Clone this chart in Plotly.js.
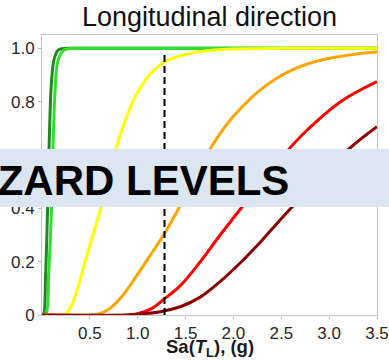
<!DOCTYPE html>
<html>
<head>
<meta charset="utf-8">
<script src="https://cdn.plot.ly/plotly-3.0.1.min.js"></script>
<style>
  html, body { margin: 0; padding: 0; background: #ffffff; }
  #chart { width: 389px; height: 361px; }
</style>
</head>
<body>
<div id="chart"></div>
<script>
// Fragility curves, longitudinal direction: probability vs Sa(T_L) in g
const curveNames = ['Curve 1', 'Curve 2', 'Curve 3', 'Curve 4', 'Curve 5', 'Curve 6'];

const darkGreenX = [0, 0.014, 0.038, 0.059, 0.076, 0.094, 0.118, 0.14, 0.17, 0.21, 0.3, 1.0, 2.0, 3.5];
const darkGreenY = [0, 0.0, 0.157, 0.406, 0.656, 0.844, 0.944, 0.975, 0.994, 0.999, 1.0, 1.0, 1.0, 1.0];

const greenX = [0, 0.04, 0.07, 0.1, 0.117, 0.137, 0.16, 0.19, 0.23, 0.29, 0.36, 1.0, 2.0, 3.5];
const greenY = [0, 0.005, 0.157, 0.406, 0.656, 0.844, 0.944, 0.975, 0.994, 0.999, 1.0, 1.0, 1.0, 1.0];

const yellowX = [0, 0.2, 0.25, 0.31, 0.38, 0.45, 0.54, 0.63, 0.766, 0.87, 0.975, 1.05, 1.12, 1.2, 1.28, 1.37, 1.47, 1.65, 1.93, 2.5, 3.5];
const yellowY = [0, 0, 0.005, 0.0375, 0.11, 0.2, 0.31, 0.42, 0.615, 0.73, 0.82, 0.865, 0.9, 0.928, 0.95, 0.963, 0.974, 0.988, 0.997, 1.0, 1.0];

const orangeX = [0, 0.5, 0.59, 0.70, 0.836, 0.975, 1.114, 1.27, 1.43, 1.6, 1.74, 1.86, 2.0, 2.25, 2.44, 2.65, 2.94, 3.27, 3.5];
const orangeY = [0, 0, 0.004, 0.022, 0.07, 0.14, 0.215, 0.3, 0.4, 0.52, 0.612, 0.68, 0.745, 0.835, 0.885, 0.925, 0.958, 0.978, 0.986];

const redX = [0, 0.9, 1.0, 1.15, 1.27, 1.445, 1.654, 1.83, 1.97, 2.09, 2.3, 2.58, 2.76, 3.12, 3.5];
const redY = [0, 0, 0.005, 0.025, 0.058, 0.11, 0.2, 0.285, 0.35, 0.405, 0.5, 0.622, 0.69, 0.8, 0.875];

const darkRedX = [0, 0.9, 1.0, 1.236, 1.445, 1.654, 1.86, 2.07, 2.28, 2.41, 2.6, 2.9, 3.21, 3.5];
const darkRedY = [0, 0, 0.003, 0.0125, 0.031, 0.067, 0.125, 0.195, 0.273, 0.325, 0.4, 0.515, 0.624, 0.706];

// Reference intensity marked with a dashed vertical line
const refSaX = [1.28, 1.28];
const refSaY = [0, 0.985];

const xTickVals = [0.5, 1.0, 1.5, 2.0, 2.5, 3.0, 3.5];
const xTickText = ['0.5', '1.0', '1.5', '2.0', '2.5', '3.0', '3.5'];
const yTickVals = [0, 0.2, 0.4, 0.6, 0.8, 1.0];
const yTickText = ['0', '0.2', '0.4', '0.6', '0.8', '1.0'];

const xTitle = '<b>Sa(<i>T</i><sub>L</sub>), (g)</b>';
const bannerText = 'HAZARD LEVELS';

const FONT = 'Liberation Sans, Arial, Helvetica, sans-serif';

function curve(name, xs, ys, color, width) {
  return {
    type: 'scatter', mode: 'lines', name: name, x: xs, y: ys,
    line: { color: color, width: width, shape: 'spline', smoothing: 1 },
    hoverinfo: 'skip', cliponaxis: true
  };
}

const traces = [
  curve(curveNames[0], darkGreenX, darkGreenY, '#1f8a1f', 3),
  curve(curveNames[1], greenX, greenY, '#2ee02e', 3),
  curve(curveNames[2], yellowX, yellowY, '#ffff00', 3),
  curve(curveNames[3], orangeX, orangeY, '#ffa500', 3),
  curve(curveNames[4], redX, redY, '#ff0000', 3),
  curve(curveNames[5], darkRedX, darkRedY, '#8b0000', 3),
  {
    type: 'scatter', mode: 'lines', name: 'Sa ref', x: refSaX, y: refSaY,
    line: { color: '#000000', width: 2, dash: '7px,4px' }, hoverinfo: 'skip'
  }
];

const axisCommon = {
  showgrid: false, zeroline: false, showline: true, mirror: true,
  linecolor: '#c4c4c4', linewidth: 1,
  ticks: 'outside', ticklen: 3, tickcolor: '#bdbdbd', tickwidth: 1,
  tickfont: { family: FONT, size: 17, color: '#262626' },
  ticklabeloverflow: 'allow',
  fixedrange: true
};

const layout = {
  width: 389, height: 361,
  margin: { l: 42, r: 12, t: 35, b: 46, pad: 0 },
  paper_bgcolor: '#ffffff', plot_bgcolor: '#ffffff',
  showlegend: false,
  title: {
    text: 'Longitudinal direction',
    font: { family: FONT, size: 27, color: '#111111' },
    xref: 'paper', x: 0.5, xanchor: 'center',
    yref: 'container', y: 0.955, yanchor: 'middle'
  },
  xaxis: Object.assign({}, axisCommon, {
    range: [0, 3.5], tickvals: xTickVals, ticktext: xTickText
  }),
  yaxis: Object.assign({}, axisCommon, {
    range: [0, 1.05], tickvals: yTickVals, ticktext: yTickText
  }),
  shapes: [{
    type: 'rect', xref: 'paper', yref: 'paper', layer: 'above',
    x0: -0.13, x1: 1.04, y0: 0.386, y1: 0.593,
    fillcolor: '#dce6f2', line: { width: 0 }
  }],
  annotations: [
    {
      // x-axis title
      text: xTitle,
      xref: 'paper', yref: 'paper', x: 0.5, y: -0.118,
      xanchor: 'center', yanchor: 'middle', showarrow: false,
      font: { family: FONT, size: 18.5, color: '#1a1a1a' }
    },
    {
      text: '<b>' + bannerText + '</b>',
      xref: 'paper', yref: 'paper', x: 0.742, y: 0.482,
      xanchor: 'right', yanchor: 'middle', showarrow: false,
      font: { family: FONT, size: 42, color: '#000000' }
    }
  ]
};

Plotly.newPlot('chart', traces, layout, { displayModeBar: false, staticPlot: true });
</script>
</body>
</html>
